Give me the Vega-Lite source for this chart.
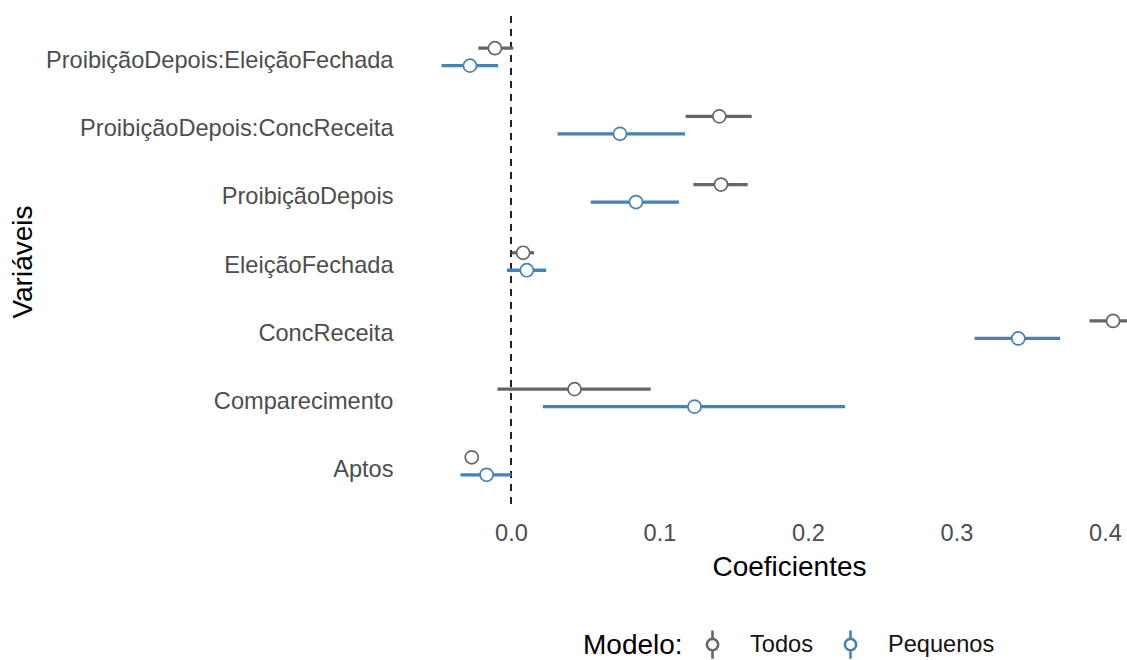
{
  "$schema": "https://vega.github.io/schema/vega-lite/v6.json",
  "width": 720,
  "height": 491,
  "autosize": "none",
  "padding": {"left": 407, "top": 16, "right": 0, "bottom": 153},
  "background": "white",
  "config": {
    "view": {"stroke": null},
    "font": "Liberation Sans",
    "axis": {"grid": false, "domain": false, "ticks": false, "labelFont": "Liberation Sans", "titleFont": "Liberation Sans", "titleFontWeight": "normal", "labelColor": "#4d4d4d", "titleColor": "#000000"},
    "legend": {"labelFont": "Liberation Sans", "titleFont": "Liberation Sans"}
  },
  "data": {
    "values": [
      {"termo": "ProibiçãoDepois:EleiçãoFechada", "Modelo": "Todos", "est": -0.0108, "lo": -0.022, "hi": 0.0015},
      {"termo": "ProibiçãoDepois:EleiçãoFechada", "Modelo": "Pequenos", "est": -0.0276, "lo": -0.0467, "hi": -0.0086},
      {"termo": "ProibiçãoDepois:ConcReceita", "Modelo": "Todos", "est": 0.1403, "lo": 0.1176, "hi": 0.1621},
      {"termo": "ProibiçãoDepois:ConcReceita", "Modelo": "Pequenos", "est": 0.0734, "lo": 0.0314, "hi": 0.1172},
      {"termo": "ProibiçãoDepois", "Modelo": "Todos", "est": 0.1414, "lo": 0.1228, "hi": 0.1594},
      {"termo": "ProibiçãoDepois", "Modelo": "Pequenos", "est": 0.0842, "lo": 0.0537, "hi": 0.1131},
      {"termo": "EleiçãoFechada", "Modelo": "Todos", "est": 0.0082, "lo": 0.0005, "hi": 0.0155},
      {"termo": "EleiçãoFechada", "Modelo": "Pequenos", "est": 0.0107, "lo": -0.0027, "hi": 0.0237},
      {"termo": "ConcReceita", "Modelo": "Todos", "est": 0.4054, "lo": 0.3896, "hi": 0.4212},
      {"termo": "ConcReceita", "Modelo": "Pequenos", "est": 0.3416, "lo": 0.3122, "hi": 0.3698},
      {"termo": "Comparecimento", "Modelo": "Todos", "est": 0.0428, "lo": -0.0091, "hi": 0.0941},
      {"termo": "Comparecimento", "Modelo": "Pequenos", "est": 0.1236, "lo": 0.0215, "hi": 0.225},
      {"termo": "Aptos", "Modelo": "Todos", "est": -0.0264, "lo": -0.029, "hi": -0.0235},
      {"termo": "Aptos", "Modelo": "Pequenos", "est": -0.0164, "lo": -0.034, "hi": 0.0003}
    ]
  },
  "encoding": {
    "y": {
      "field": "termo", "type": "nominal",
      "sort": ["ProibiçãoDepois:EleiçãoFechada", "ProibiçãoDepois:ConcReceita", "ProibiçãoDepois", "EleiçãoFechada", "ConcReceita", "Comparecimento", "Aptos"],
      "scale": {"paddingInner": 0, "paddingOuter": 0.1},
      "axis": {"title": "Variáveis", "labelFontSize": 23.6, "titleFontSize": 28, "labelPadding": 14, "labelOffset": 4, "labelLimit": 500, "titleX": -384, "titleBaseline": "middle"}
    },
    "yOffset": {
      "field": "Modelo", "type": "nominal",
      "scale": {"domain": ["Todos", "Pequenos"], "paddingInner": 0, "paddingOuter": 0.95}
    }
  },
  "layer": [
    {
      "mark": {"type": "rule", "strokeDash": [7, 6], "strokeWidth": 1.8, "color": "#222222"},
      "encoding": {"x": {"datum": 0, "type": "quantitative"}, "y": null, "yOffset": null}
    },
    {
      "mark": {"type": "rule", "strokeWidth": 3.3, "clip": true},
      "encoding": {
        "x": {
          "field": "lo", "type": "quantitative",
          "scale": {"domain": [-0.07, 0.4148], "nice": false, "zero": false},
          "axis": {"title": "Coeficientes", "values": [0, 0.1, 0.2, 0.3, 0.4], "format": ".1f", "labelFontSize": 23.6, "titleFontSize": 28, "labelPadding": 14.5, "titleX": 382, "titleY": 46.5, "titleBaseline": "top"}
        },
        "x2": {"field": "hi"},
        "stroke": {
          "field": "Modelo", "type": "nominal",
          "scale": {"domain": ["Todos", "Pequenos"], "range": ["#666666", "#4682b4"]},
          "legend": {
            "title": "Modelo:",
            "orient": "none",
            "legendX": 176,
            "legendY": 613,
            "direction": "horizontal",
            "titleOrient": "left",
            "titleFontSize": 28,
            "titleFontWeight": "normal",
            "titleColor": "#000000",
            "titlePadding": 14,
            "labelFontSize": 23.6,
            "labelColor": "#111111",
            "labelOffset": 22,
            "columnPadding": 22,
            "symbolType": "M0,-1L0,-0.4M0,0.4L0,1M-0.4,0A0.4,0.4 0 1,1 0.4,0A0.4,0.4 0 1,1 -0.4,0Z",
            "symbolSize": 800,
            "symbolStrokeWidth": 2.6,
            "symbolFillColor": "white"
          }
        }
      }
    },
    {
      "mark": {"type": "point", "shape": "circle", "filled": false, "fill": "white", "fillOpacity": 1, "strokeWidth": 1.7, "size": 170, "opacity": 1, "clip": true},
      "encoding": {
        "x": {"field": "est", "type": "quantitative"},
        "stroke": {"field": "Modelo", "type": "nominal"}
      }
    }
  ]
}
